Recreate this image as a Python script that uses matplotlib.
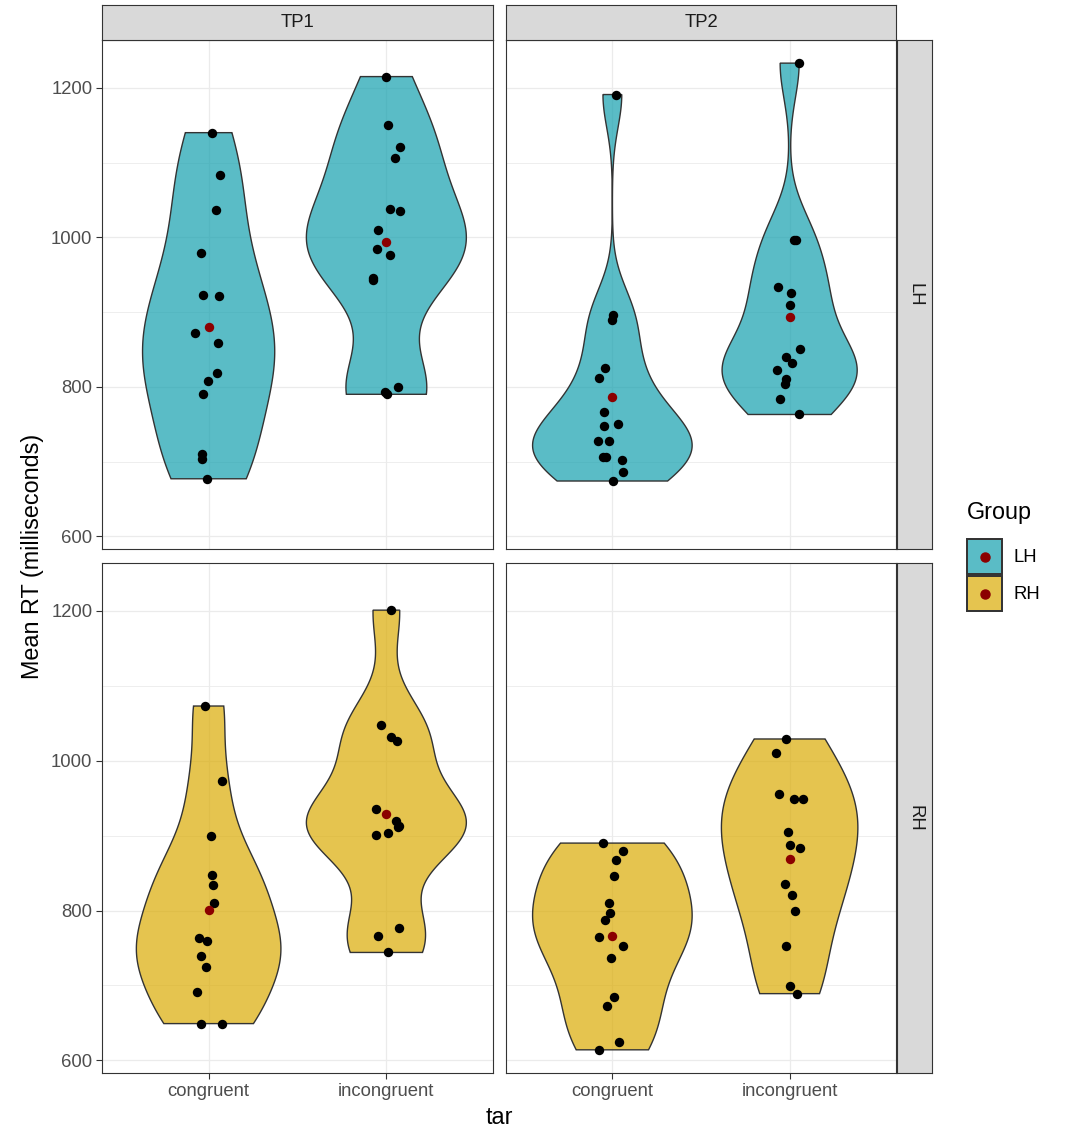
import numpy as np
import matplotlib
matplotlib.use("Agg")
import matplotlib.pyplot as plt
from matplotlib.patches import Patch
from matplotlib.lines import Line2D
from matplotlib.legend_handler import HandlerTuple, HandlerLine2D

plt.rcParams['font.family'] = ['Liberation Sans', 'DejaVu Sans']

# Mean RT per subject
conditions = ["congruent", "incongruent"]
timepoints = ["TP1", "TP2"]
groups = ["LH", "RH"]

lh_tp1_congruent = [1140, 1083, 1037, 979, 923, 921, 872, 858, 819, 808, 790, 710, 704, 677]
lh_tp1_incongruent = [1215, 1150, 1121, 1106, 1038, 1035, 1010, 984, 977, 946, 943, 790, 793, 800]
lh_tp2_congruent = [1191, 896, 890, 825, 812, 766, 750, 747, 727, 727, 702, 706, 706, 686, 674]
lh_tp2_incongruent = [1233, 997, 997, 934, 925, 909, 851, 840, 832, 823, 811, 804, 784, 763]
rh_tp1_congruent = [1073, 973, 899, 848, 834, 810, 763, 759, 739, 725, 691, 649, 649]
rh_tp1_incongruent = [1201, 1047, 1026, 1031, 935, 920, 913, 912, 904, 901, 766, 776, 744]
rh_tp2_congruent = [890, 879, 867, 846, 810, 797, 787, 765, 753, 736, 685, 673, 624, 614]
rh_tp2_incongruent = [1029, 1010, 955, 949, 949, 905, 888, 883, 836, 821, 800, 752, 699, 689]

data = {
    ("LH", "TP1"): [lh_tp1_congruent, lh_tp1_incongruent],
    ("LH", "TP2"): [lh_tp2_congruent, lh_tp2_incongruent],
    ("RH", "TP1"): [rh_tp1_congruent, rh_tp1_incongruent],
    ("RH", "TP2"): [rh_tp2_congruent, rh_tp2_incongruent],
}

fills = {"LH": "#14A0AE", "RH": "#DBAB05"}
fill_alpha = 0.7
edge = "#333333"
grid_col = "#EBEBEB"
tick_col = "#4D4D4D"
strip_fill = "#D9D9D9"

small = 13.3
big = 16.8


def kde_nrd0(values, grid):
    """Gaussian KDE with R's bw.nrd0 bandwidth."""
    v = np.asarray(values, dtype=float)
    n = len(v)
    q75, q25 = np.percentile(v, [75, 25])
    lo = min(v.std(ddof=1), (q75 - q25) / 1.34)
    bw = 0.9 * lo * n ** -0.2
    z = (grid[:, None] - v[None, :]) / bw
    return np.exp(-0.5 * z ** 2).sum(axis=1) / (n * bw * np.sqrt(2 * np.pi))


class CenteredDot(HandlerLine2D):
    """Legend marker placed in the middle of the key box."""
    def create_artists(self, legend, orig_handle, xdescent, ydescent,
                       width, height, fontsize, trans):
        arts = super().create_artists(legend, orig_handle, xdescent, ydescent,
                                      width, height, fontsize, trans)
        for a in arts:
            a.set_ydata(np.asarray(a.get_ydata()) - ydescent / 2)
        return arts


W, H = 1066, 1131
fig = plt.figure(figsize=(W / 100, H / 100), dpi=100)


def fig_rect(x0, y0, x1, y1):
    return [x0 / W, 1 - y1 / H, (x1 - x0) / W, (y1 - y0) / H]


col_x = [(102, 493), (506, 896)]
row_y = [(40, 549), (563, 1073)]

all_vals = np.concatenate([np.concatenate(v) for v in data.values()])
span = all_vals.max() - all_vals.min()
ylim = (all_vals.min() - 0.05 * span, all_vals.max() + 0.05 * span)

rng = np.random.default_rng(7)

for r, grp in enumerate(groups):
    for c, tp in enumerate(timepoints):
        x0, x1 = col_x[c]
        y0, y1 = row_y[r]
        ax = fig.add_axes(fig_rect(x0, y0, x1, y1))
        ax.set_xlim(-0.6, 1.6)
        ax.set_ylim(*ylim)
        ax.set_yticks([600, 800, 1000, 1200])
        ax.set_yticks([700, 900, 1100], minor=True)
        ax.set_xticks(range(len(conditions)))
        ax.grid(True, which='major', color=grid_col, lw=0.9)
        ax.grid(True, which='minor', axis='y', color=grid_col, lw=0.6)
        ax.set_axisbelow(True)
        ax.tick_params(which='minor', length=0)
        ax.tick_params(which='major', length=4, width=0.8, color=edge,
                       labelcolor=tick_col, labelsize=small, pad=3)
        for s in ax.spines.values():
            s.set_color(edge)
            s.set_linewidth(0.8)
        if c == 0:
            ax.set_yticklabels([str(t) for t in [600, 800, 1000, 1200]])
        else:
            ax.tick_params(axis='y', labelleft=False, length=0)
        if r == 1:
            ax.set_xticklabels(conditions)
        else:
            ax.tick_params(axis='x', labelbottom=False, length=0)

        sets = data[(grp, tp)]
        grids = [np.linspace(min(v), max(v), 512) for v in sets]
        dens = [kde_nrd0(v, g) for v, g in zip(sets, grids)]
        dmax = max(d.max() for d in dens)
        for i, (vals, g, d) in enumerate(zip(sets, grids, dens)):
            half = 0.45 * d / dmax
            xs = np.concatenate([i - half, (i + half)[::-1]])
            ys = np.concatenate([g, g[::-1]])
            ax.fill(xs, ys, facecolor=fills[grp], alpha=fill_alpha, zorder=2)
            ax.fill(xs, ys, facecolor='none', edgecolor=edge, lw=1.0, zorder=3)
            jit = rng.uniform(-0.08, 0.08, len(vals))
            ax.scatter(i + jit, vals, s=46, color='black', zorder=4, linewidths=0)
            ax.scatter([i], [np.mean(vals)], s=46, color='#8B0000', zorder=5, linewidths=0)

        # column strips
        if r == 0:
            sax = fig.add_axes(fig_rect(x0, 5, x1, 40))
            sax.set_facecolor(strip_fill)
            sax.set_xticks([])
            sax.set_yticks([])
            for s in sax.spines.values():
                s.set_color(edge)
                s.set_linewidth(0.8)
            sax.text(0.5, 0.5, tp, ha='center', va='center', fontsize=small,
                     color='#1A1A1A', transform=sax.transAxes)
    # row strips
    y0, y1 = row_y[r]
    sax = fig.add_axes(fig_rect(897, y0, 932, y1))
    sax.set_facecolor(strip_fill)
    sax.set_xticks([])
    sax.set_yticks([])
    for s in sax.spines.values():
        s.set_color(edge)
        s.set_linewidth(0.8)
    sax.text(0.5, 0.5, grp, ha='center', va='center', fontsize=small, rotation=-90,
             color='#1A1A1A', transform=sax.transAxes)

fig.text(33 / W, 1 - 556 / H, "Mean RT (milliseconds)", rotation=90,
         ha='center', va='center', fontsize=big)
fig.text(499 / W, 1 - 1117 / H, "tar", ha='center', va='center', fontsize=big)

handles = []
for grp in groups:
    box = Patch(facecolor=fills[grp], alpha=fill_alpha, edgecolor=edge, lw=1.2)
    box_edge = Patch(facecolor='none', edgecolor=edge, lw=1.4)
    dot = Line2D([], [], marker='o', ls='', color='#8B0000', markersize=6.5)
    handles.append((box, box_edge, dot))

leg = fig.legend(handles, groups,
                 handler_map={tuple: HandlerTuple(ndivide=1), Line2D: CenteredDot()},
                 loc='upper left', bbox_to_anchor=(967 / W, 1 - 501 / H),
                 frameon=False, title="Group", fontsize=small, title_fontsize=big,
                 handlelength=1.9, handleheight=2.53, labelspacing=0.12,
                 handletextpad=0.6, borderaxespad=0, borderpad=0)
leg._legend_box.align = "left"
leg._legend_box.sep = 11

fig.savefig("out.png", dpi=100)
